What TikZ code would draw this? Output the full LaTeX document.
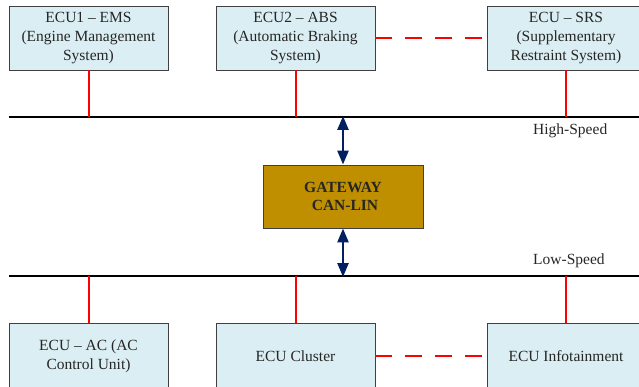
\documentclass[tikz,border=0pt]{standalone}
\usepackage{fontspec}
\setmainfont{Liberation Serif}
\usetikzlibrary{arrows.meta}
\definecolor{ecufill}{HTML}{DAEEF3}
\definecolor{gwfill}{HTML}{BF8F00}
\definecolor{navy}{HTML}{002060}
\definecolor{txt}{HTML}{262626}
\tikzset{
  ecu/.style={draw=black!75, line width=0.9pt, fill=ecufill, align=center,
    text=txt, minimum width=159pt, inner sep=2pt,
    font=\fontsize{15.5}{19}\selectfont},
  gwbox/.style={draw=black!75, line width=0.9pt, fill=gwfill, align=center,
    text=txt, minimum width=160pt, minimum height=63pt,
    font=\fontsize{15.5}{18.5}\selectfont\bfseries},
  bus/.style={line width=2pt, black},
  tap/.style={line width=2pt, red},
  peer/.style={line width=2pt, red, dash pattern=on 17pt off 13pt},
  gwlink/.style={line width=2.5pt, navy,
    {Triangle[length=14pt,width=11pt]}-{Triangle[length=14pt,width=11pt]}},
  buslabel/.style={anchor=west, inner sep=0pt, text=txt,
    font=\fontsize{15.5}{19}\selectfont}
}
\begin{document}
\begin{tikzpicture}[x=1pt, y=-1pt]
  \useasboundingbox (0,0) rectangle (639,387);
  \clip (0,0) rectangle (639,387);

  % bus lines
  \coordinate (hsL) at (9,117);
  \coordinate (hsR) at (640,117);
  \coordinate (lsL) at (9,276);
  \coordinate (lsR) at (640,276);
  \draw[bus] (hsL) -- (hsR);
  \draw[bus] (lsL) -- (lsR);
  \node[buslabel] (hslabel) at (533,131) {High-Speed};
  \node[buslabel] (lslabel) at (533,261) {Low-Speed};

  % high-speed ECUs
  \node[ecu, minimum height=64pt] (ems) at (88.5,38)
    {ECU1 -- EMS\\(Engine Management\\System)};
  \node[ecu, minimum height=64pt] (abs) at (295.5,38)
    {ECU2 -- ABS\\(Automatic Braking\\System)};
  \node[ecu, minimum height=64pt, minimum width=158pt] (srs) at (566,38)
    {ECU -- SRS\\(Supplementary\\Restraint System)};

  % low-speed ECUs
  \node[ecu, minimum height=66pt] (ac) at (88.5,356)
    {ECU -- AC (AC\\Control Unit)};
  \node[ecu, minimum height=66pt] (clu) at (295.5,356) {ECU Cluster};
  \node[ecu, minimum height=66pt, minimum width=158pt] (info) at (566,356)
    {ECU Infotainment};

  % gateway
  \node[gwbox] (gw) at (343,196.5) {GATEWAY\\\hspace*{4pt}CAN-LIN};

  % taps onto the buses
  \foreach \n in {ems,abs,srs}
    \draw[tap] (\n.south) -- (\n.south |- hsL);
  \foreach \n in {ac,clu,info}
    \draw[tap] (\n.north) -- (\n.north |- lsL);

  % direct peer links
  \draw[peer] (abs.east) -- (srs.west);
  \draw[peer] (clu.east) -- (info.west);

  % gateway links
  \draw[gwlink] ([yshift=1pt]gw.north |- hsL) -- (gw.north);
  \draw[gwlink] (gw.south) -- ([yshift=-1pt]gw.south |- lsL);
\end{tikzpicture}
\end{document}
